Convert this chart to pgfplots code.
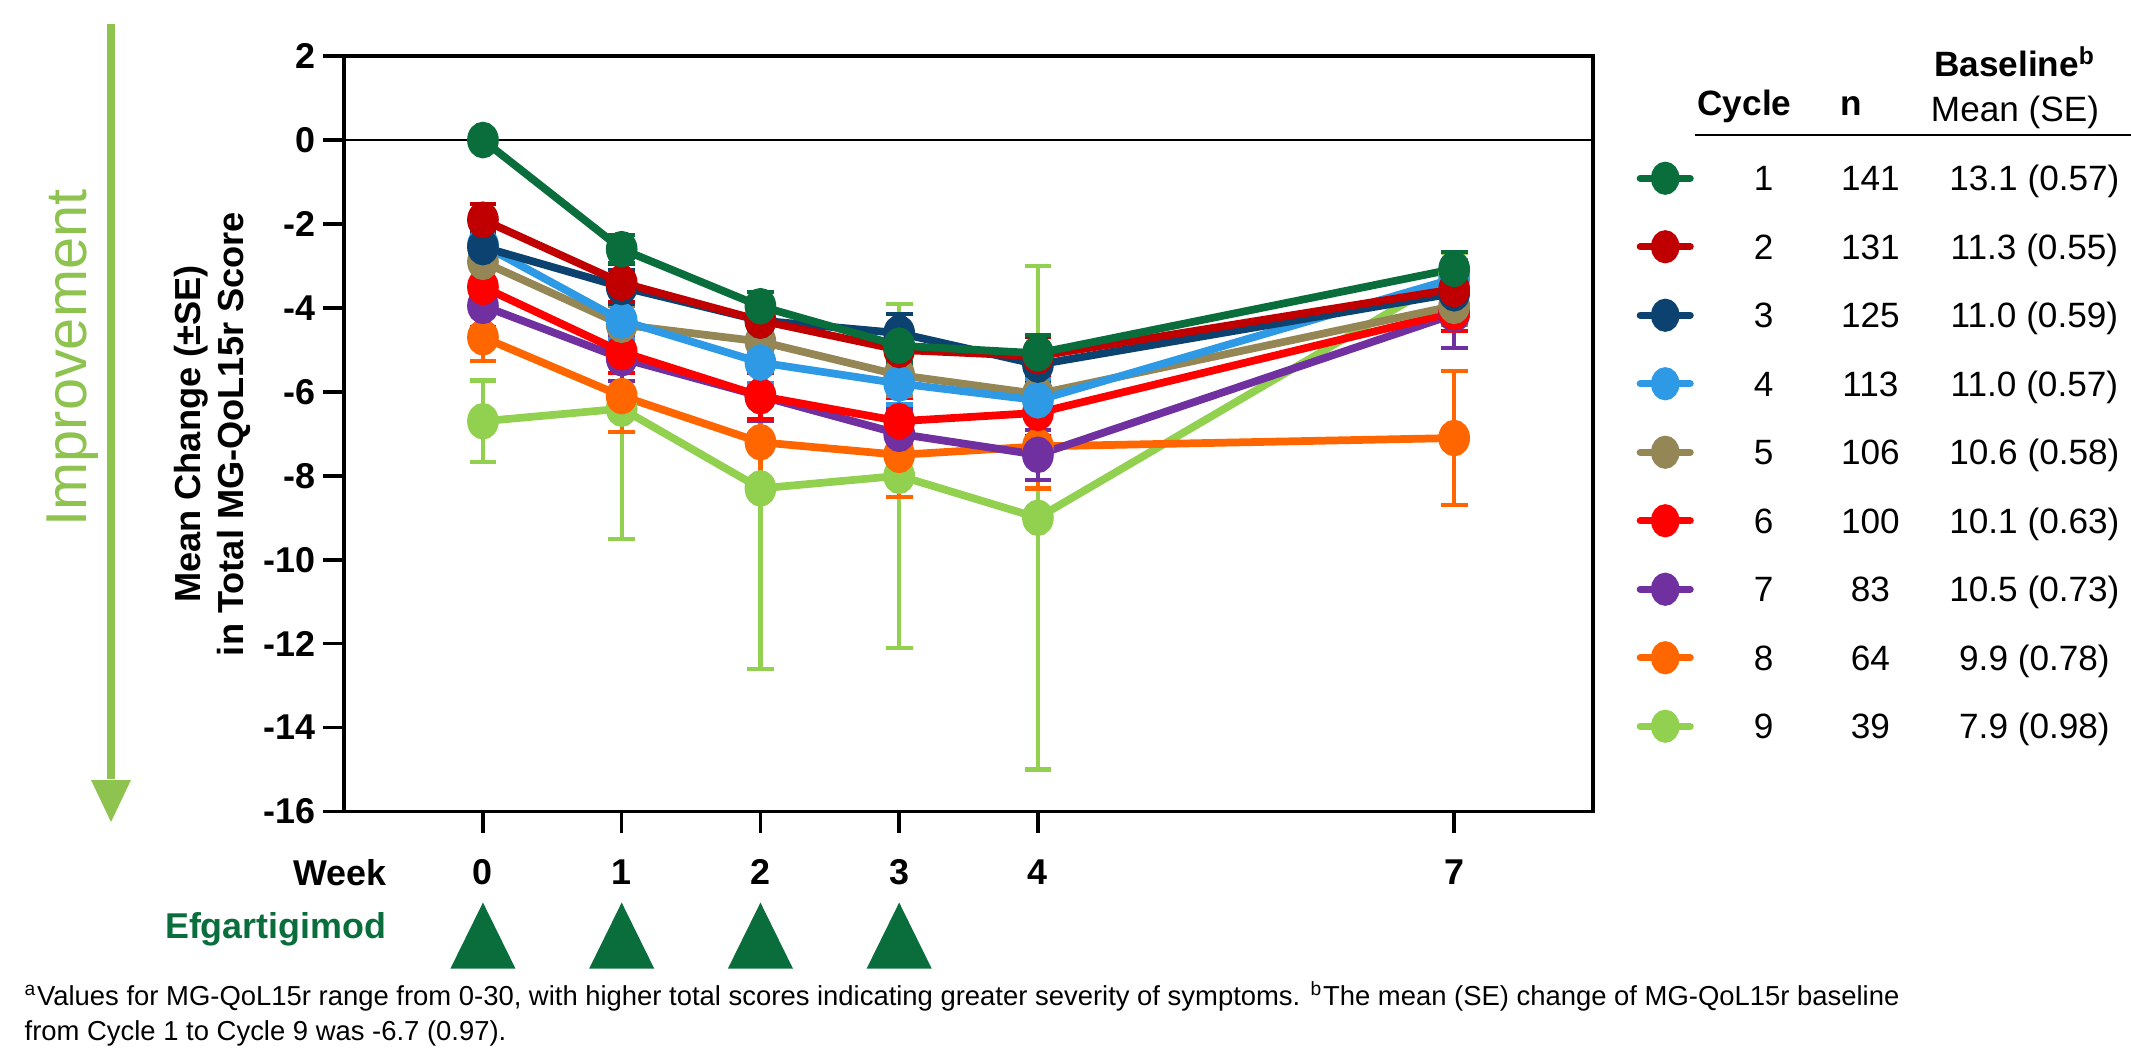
\documentclass[border=0pt]{standalone}
\usepackage{fontspec}
\setmainfont{Liberation Sans}
\usepackage{pgfplots}
\pgfplotsset{compat=1.18}

\definecolor{c1}{HTML}{0A6E3C}
\definecolor{c2}{HTML}{C00000}
\definecolor{c3}{HTML}{0C4270}
\definecolor{c4}{HTML}{2E9AE6}
\definecolor{c5}{HTML}{958656}
\definecolor{c6}{HTML}{FF0000}
\definecolor{c7}{HTML}{7030A0}
\definecolor{c8}{HTML}{FF6600}
\definecolor{c9}{HTML}{92D050}
\definecolor{impr}{HTML}{8FC34F}

\newcommand{\lrow}[3]{\makebox[1.195cm][c]{#1}\makebox[0.94cm][c]{#2}\makebox[2.34cm][c]{#3}}

\pgfplotsset{
  cyc/.style={color=#1, line width=2.2pt, mark=*, mark size=4.1pt,
    mark options={xscale=0.83, solid},
    error bars/.cd, y dir=both, y explicit,
    error bar style={line width=1.2pt},
    error mark options={rotate=90, mark size=3.8pt, line width=1.2pt}},
}

\begin{document}
\begin{tikzpicture}[x=0.01cm, y=0.01cm]
\path[use as bounding box] (0,0) rectangle (2131,1054);

\begin{axis}[
    at={(3.44cm,2.423cm)}, anchor=south west,
    scale only axis, width=12.48cm, height=7.55cm,
    xmin=-1, xmax=8, ymin=-16, ymax=2,
    xtick={0,1,2,3,4,7}, ytick={-16,-14,...,2},
    xtick pos=lower, ytick pos=left,
    tick align=outside, major tick length=0.21cm,
    tick style={black, line width=1pt},
    axis line style={line width=1pt},
    /pgf/number format/assume math mode=true,
    ticklabel style={font=\fontsize{10.2}{12}\selectfont\bfseries},
    xticklabel style={anchor=base, yshift=-0.52cm},
    yticklabel style={inner xsep=2pt},
    clip=false,
    reverse legend,
    legend style={at={(1.0345,0.8846)}, anchor=north west, draw=none, fill=none,
      inner sep=0pt, row sep=0pt, column sep=0pt,
      font=\fontsize{10}{12}\selectfont,
      nodes={inner ysep=0pt, inner xsep=0.1cm, text height=0.468cm, text depth=0.2166cm}},
    legend cell align=left,
    legend image code/.code={\draw[#1, mark repeat=2, mark phase=2, line cap=round,
      line width=2pt, mark size=3.7pt]
      plot coordinates {(0cm,0cm) (0.25cm,0cm) (0.5cm,0cm)};},
]
% zero reference line
\addplot[black, line width=0.5pt, forget plot] coordinates {(-1,0) (8,0)};

\addplot[cyc=c9] coordinates {(0,-6.7)+-(0,0.97) (1,-6.4)+-(0,3.1) (2,-8.3)+-(0,4.3) (3,-8.0)+-(0,4.1) (4,-9.0)+-(0,6.0) (7,-3.2)+-(0,0.5)};
\addlegendentry{\lrow{9}{39}{7.9 (0.98)}}
\addplot[cyc=c8] coordinates {(0,-4.7)+-(0,0.57) (1,-6.1)+-(0,0.86) (2,-7.2)+-(0,0.9) (3,-7.5)+-(0,1.0) (4,-7.3)+-(0,1.0) (7,-7.1)+-(0,1.6)};
\addlegendentry{\lrow{8}{64}{9.9 (0.78)}}
\addplot[cyc=c7] coordinates {(0,-3.95)+-(0,0.5) (1,-5.2)+-(0,0.55) (2,-6.1)+-(0,0.6) (3,-7.0)+-(0,0.6) (4,-7.5)+-(0,0.6) (7,-4.15)+-(0,0.8)};
\addlegendentry{\lrow{7}{83}{10.5 (0.73)}}
\addplot[cyc=c6] coordinates {(0,-3.5)+-(0,0.45) (1,-5.05)+-(0,0.5) (2,-6.1)+-(0,0.55) (3,-6.7)+-(0,0.55) (4,-6.5)+-(0,0.55) (7,-4.1)+-(0,0.45)};
\addlegendentry{\lrow{6}{100}{10.1 (0.63)}}
\addplot[cyc=c5] coordinates {(0,-2.9)+-(0,0.4) (1,-4.4)+-(0,0.45) (2,-4.8)+-(0,0.5) (3,-5.6)+-(0,0.5) (4,-6.05)+-(0,0.5) (7,-3.95)+-(0,0.45)};
\addlegendentry{\lrow{5}{106}{10.6 (0.58)}}
\addplot[cyc=c4] coordinates {(0,-2.5)+-(0,0.4) (1,-4.3)+-(0,0.45) (2,-5.3)+-(0,0.5) (3,-5.8)+-(0,0.5) (4,-6.2)+-(0,0.5) (7,-3.3)+-(0,0.45)};
\addlegendentry{\lrow{4}{113}{11.0 (0.57)}}
\addplot[cyc=c3] coordinates {(0,-2.55)+-(0,0.35) (1,-3.5)+-(0,0.4) (2,-4.3)+-(0,0.4) (3,-4.6)+-(0,0.45) (4,-5.35)+-(0,0.45) (7,-3.65)+-(0,0.4)};
\addlegendentry{\lrow{3}{125}{11.0 (0.59)}}
\addplot[cyc=c2] coordinates {(0,-1.9)+-(0,0.38) (1,-3.4)+-(0,0.45) (2,-4.3)+-(0,0.4) (3,-5.0)+-(0,0.42) (4,-5.15)+-(0,0.45) (7,-3.55)+-(0,0.45)};
\addlegendentry{\lrow{2}{131}{11.3 (0.55)}}
\addplot[cyc=c1] coordinates {(0,0)+-(0,0) (1,-2.6)+-(0,0.33) (2,-3.96)+-(0,0.34) (3,-4.9)+-(0,0.4) (4,-5.08)+-(0,0.44) (7,-3.07)+-(0,0.4)};
\addlegendentry{\lrow{1}{141}{13.1 (0.57)}}

% dosing weeks
\addplot[only marks, mark=triangle*, color=c1, mark size=12.1pt,
  mark options={xscale=0.853}, forget plot]
  coordinates {(0,-19.22) (1,-19.22) (2,-19.22) (3,-19.22)};
\end{axis}

% improvement arrow
\draw[impr, line width=0.07cm] (111,1030) -- (111,275);
\fill[impr] (91,274) -- (131,274) -- (111,232) -- cycle;
\node[rotate=90, anchor=base, text=impr, font=\fontsize{16.4}{18}\selectfont, inner sep=0pt]
  at (86,696) {Improvement};

% y label
\node[rotate=90, anchor=base, inner sep=0pt, font=\fontsize{10.3}{12}\selectfont\bfseries]
  at (200,620) {Mean Change (±SE)};
\node[rotate=90, anchor=base, inner sep=0pt, font=\fontsize{10.3}{12}\selectfont\bfseries]
  at (243,620) {in Total MG-QoL15r Score};

% bottom labels
\node[anchor=base east, inner sep=0pt, font=\fontsize{10.2}{12}\selectfont\bfseries]
  at (387,169) {Week};
\node[anchor=base east, inner sep=0pt, text=c1, font=\fontsize{10.2}{12}\selectfont\bfseries]
  at (387,116) {Efgartigimod};

% legend header
\node[anchor=base, inner sep=0pt, font=\fontsize{10}{12}\selectfont\bfseries] at (1744.5,938) {Cycle};
\node[anchor=base, inner sep=0pt, font=\fontsize{10}{12}\selectfont\bfseries] at (1851,938) {n};
\node[anchor=base, inner sep=0pt, font=\fontsize{10}{12}\selectfont\bfseries] at (2015,977) {Baseline\textsuperscript{b}};
\node[anchor=base, inner sep=0pt, font=\fontsize{10}{12}\selectfont] at (2015,932) {Mean (SE)};
\draw[line width=0.6pt] (1695,919) -- (2131,919);

% footnote
\node[anchor=base west, inner sep=0pt, font=\fontsize{7.8}{9}\selectfont] at (24,49)
  {\textsuperscript{a}Values for MG-QoL15r range from 0-30, with higher total scores indicating greater severity of symptoms. \textsuperscript{b}The mean (SE) change of MG-QoL15r baseline};
\node[anchor=base west, inner sep=0pt, font=\fontsize{7.8}{9}\selectfont] at (24,14)
  {from Cycle 1 to Cycle 9 was -6.7 (0.97).};
\end{tikzpicture}
\end{document}
